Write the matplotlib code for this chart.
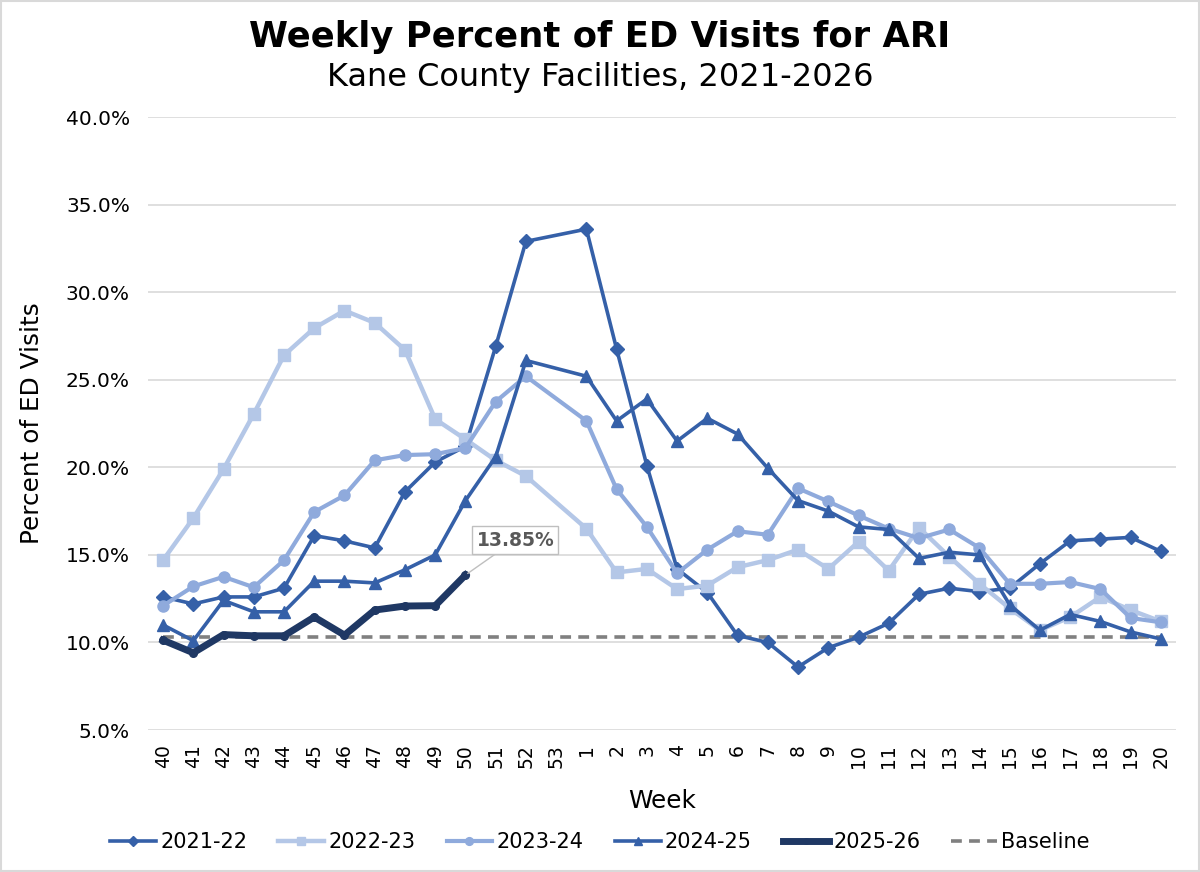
import numpy as np
import matplotlib
matplotlib.use("Agg")
import matplotlib.pyplot as plt
from matplotlib.ticker import FuncFormatter

plt.rcParams["font.family"] = ["DejaVu Sans"]

nan = np.nan

# week labels (season runs week 40 -> week 20)
WEEKS = [str(w) for w in range(40, 54)] + [str(w) for w in range(1, 21)]

S2021 = [12.6, 12.2, 12.6, 12.6, 13.1, 16.1, 15.8, 15.4, 18.6, 20.3, 21.2, 26.9, 32.9, nan,
         33.6, 26.75, 20.1, 14.2, 12.85, 10.4, 10.0, 8.6, 9.7, 10.3, 11.1, 12.75, 13.1, 12.9,
         13.1, 14.5, 15.8, 15.9, 16.0, 15.2]
S2022 = [14.7, 17.1, 19.9, 23.05, 26.4, 27.95, 28.95, 28.25, 26.7, 22.75, 21.6, 20.4, 19.5, nan,
         16.5, 14.0, 14.2, 13.05, 13.25, 14.3, 14.7, 15.3, 14.2, 15.75, 14.1, 16.55, 14.9, 13.35,
         11.95, 10.7, 11.45, 12.6, 11.85, 11.2]
S2023 = [12.1, 13.2, 13.75, 13.15, 14.7, 17.45, 18.4, 20.4, 20.7, 20.75, 21.1, 23.75, 25.2, nan,
         22.65, 18.75, 16.6, 13.95, 15.3, 16.35, 16.15, 18.8, 18.05, 17.25, 16.5, 15.95, 16.45, 15.4,
         13.35, 13.35, 13.45, 13.05, 11.4, 11.15]
S2024 = [11.0, 10.1, 12.4, 11.75, 11.75, 13.5, 13.5, 13.4, 14.15, 15.0, 18.1, 20.6, 26.1, nan,
         25.2, 22.65, 23.9, 21.5, 22.8, 21.9, 19.95, 18.1, 17.5, 16.6, 16.45, 14.8, 15.15, 15.0,
         12.15, 10.7, 11.6, 11.2, 10.6, 10.2]
S2025 = [10.13, 9.41, 10.45, 10.38, 10.38, 11.45, 10.42, 11.85, 12.08, 12.1, 13.85]
BASELINE = 10.32

SERIES = [
    ("2021-22", S2021, "#3560A8", "D", 7.5, 2.6),
    ("2022-23", S2022, "#B4C7E7", "s", 8, 3.2),
    ("2023-24", S2023, "#8FAADC", "o", 8, 3.0),
    ("2024-25", S2024, "#3560A8", "^", 8, 2.6),
    ("2025-26", S2025, "#1F3864", "o", 5.5, 5.0),
]

fig = plt.figure(figsize=(12, 8.72), dpi=100)
fig.patches.append(plt.Rectangle((0.001, 0.001), 0.998, 0.998, transform=fig.transFigure,
                                 fill=False, edgecolor="#D9D9D9", linewidth=1.5))
ax = fig.add_axes([0.1233, 0.1628, 0.8567, 0.703])

x = np.arange(len(WEEKS))
ax.plot(x, [BASELINE] * len(x), linestyle=(0, (3, 2)), color="#808080", linewidth=2.6,
        label="Baseline", zorder=2)

handles = []
for name, vals, color, marker, ms, lw in SERIES:
    y = np.array(vals, dtype=float)
    xx = x[:len(y)]
    m = ~np.isnan(y)
    h, = ax.plot(xx[m], y[m], color=color, marker=marker, markersize=ms, linewidth=lw,
                 label=name, zorder=3)
    handles.append(h)

# callout for latest value
ax.annotate(f"{S2025[-1]:.2f}%", xy=(10, S2025[-1]), xytext=(11.65, 15.85),
            ha="center", va="center", fontsize=13.5, fontweight="bold", color="#595959",
            bbox=dict(boxstyle="square,pad=0.22", facecolor="white", edgecolor="#BFBFBF"),
            arrowprops=dict(arrowstyle="-", color="#BFBFBF", linewidth=1,
                            shrinkA=0, shrinkB=2), zorder=5)

ax.set_xlim(-0.5, len(WEEKS) - 0.5)
ax.set_ylim(5, 40)
ax.set_yticks(np.arange(5, 41, 5))
ax.yaxis.set_major_formatter(FuncFormatter(lambda v, _: f"{v:.1f}%"))
ax.set_xticks(x)
ax.set_xticklabels(WEEKS, rotation=90, fontsize=13.5)
ax.tick_params(axis="y", labelsize=14.5, length=0, pad=13)
ax.tick_params(axis="x", length=0, pad=10)
ax.grid(axis="y", color="#D9D9D9", linewidth=1.2)
ax.set_axisbelow(True)
for s in ax.spines.values():
    s.set_visible(False)

ax.set_xlabel("Week", fontsize=17.8, labelpad=15)
ax.set_ylabel("Percent of ED Visits", fontsize=17.8, labelpad=16)

fig.text(0.5, 0.957, "Weekly Percent of ED Visits for ARI", ha="center", va="center",
         fontsize=25.5, fontweight="bold")
fig.text(0.5, 0.911, "Kane County Facilities, 2021-2026", ha="center", va="center",
         fontsize=23)

base_h = ax.lines[0]
fig.legend(handles + [base_h], [h.get_label() for h in handles] + ["Baseline"],
           loc="center", bbox_to_anchor=(0.5, 0.034), ncol=6, frameon=False,
           fontsize=15, handlelength=2.2, handletextpad=0.2, columnspacing=1.5,
           markerscale=0.7)

fig.savefig("out.png", dpi=100)
